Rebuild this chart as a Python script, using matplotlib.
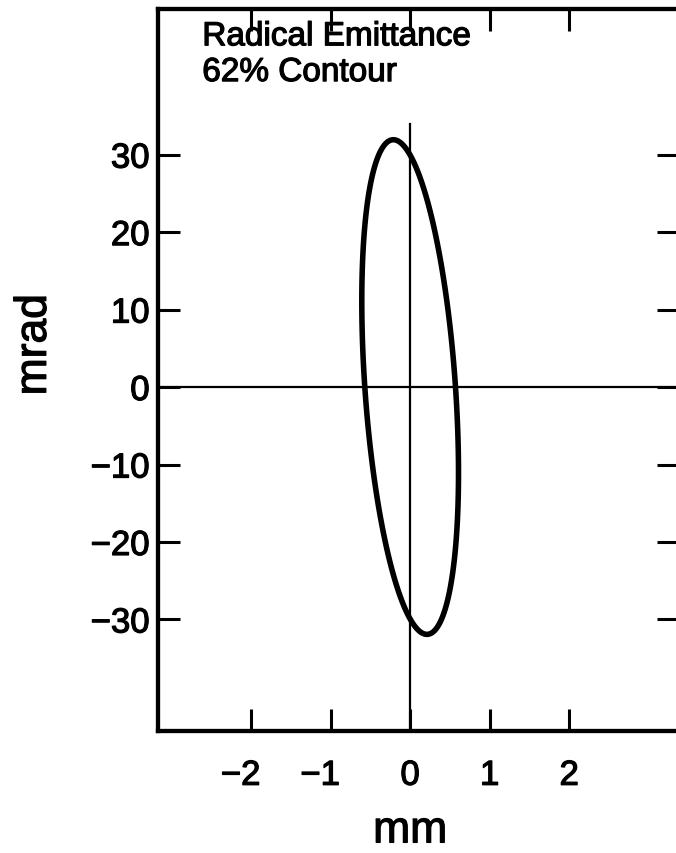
import numpy as np
import matplotlib
matplotlib.use("Agg")
import matplotlib.pyplot as plt
import matplotlib.patheffects as pe

plt.rcParams['font.family'] = ['Liberation Sans', 'DejaVu Sans']

# Twiss parameters of the 62% contour (x in mm, x' in mrad)
emittance = 18.2      # mm*mrad
alpha_twiss = 0.37
gamma_twiss = 56.0

x_ticks = [-2, -1, 0, 1, 2]
y_ticks = [-30, -20, -10, 0, 10, 20, 30]
x_limits = (-3.17, 3.38)
y_limits = (-44.4, 48.8)

title_lines = ["Radical Emittance", "62% Contour"]

heavy = [pe.withStroke(linewidth=0.9, foreground='black')]


def contour_points(eps, alpha, gamma, n=400):
    beta = (1 + alpha ** 2) / gamma
    t = np.linspace(0, 2 * np.pi, n, endpoint=False)
    x = np.sqrt(eps * beta) * np.cos(t)
    xp = -np.sqrt(eps / beta) * (alpha * np.cos(t) + np.sin(t))
    return x, xp


def fmt(v):
    return ("\u2212" if v < 0 else "") + str(abs(v))


fig = plt.figure(figsize=(6.76, 8.54), dpi=100)
ax = fig.add_axes([158 / 676, 1 - 732 / 854, (679 - 158) / 676, (732 - 10) / 854])
ax.set_xlim(*x_limits)
ax.set_ylim(*y_limits)

# reference axes through the origin
ax.axhline(0, color='black', lw=1.6, zorder=2)
ax.plot([0, 0], [y_limits[0], 34], color='black', lw=1.6, zorder=2)

# closed contour, drawn as an unfilled polygon so there is no seam
x, xp = contour_points(emittance, alpha_twiss, gamma_twiss)
ax.fill(x, xp, fill=False, edgecolor='black', lw=4.0, joinstyle='round', zorder=3)

for s in ax.spines.values():
    s.set_linewidth(3.1)

ax.set_xticks(x_ticks)
ax.set_yticks(y_ticks)
ax.set_xticklabels([])
ax.set_yticklabels([fmt(v) for v in y_ticks])
ax.tick_params(direction='in', length=16, width=2.2, top=True, right=True,
               labelsize=25, color='black')
ax.tick_params(axis='y', pad=6)
for lab in ax.get_yticklabels():
    lab.set_path_effects(heavy)

# x tick labels: digit centred on the tick, minus sign hanging to the left
for v in x_ticks:
    shift = -7.5 if v < 0 else 0
    ax.annotate(fmt(v), xy=(v, 0), xycoords=('data', 'axes fraction'),
                xytext=(shift, -20), textcoords='offset points',
                ha='center', va='top', fontsize=25, path_effects=heavy)

ax.set_xlabel("mm", fontsize=32, path_effects=heavy)
ax.xaxis.set_label_coords((0 - x_limits[0]) / (x_limits[1] - x_limits[0]), -0.11)
ax.set_ylabel("mrad", fontsize=32, path_effects=heavy)
ax.yaxis.set_label_coords(-0.198, 0.535)

ax.text(0.085, 0.983, "\n".join(title_lines), transform=ax.transAxes,
        ha='left', va='top', fontsize=24, linespacing=1.2, path_effects=heavy)

fig.savefig("out.png", dpi=100)
